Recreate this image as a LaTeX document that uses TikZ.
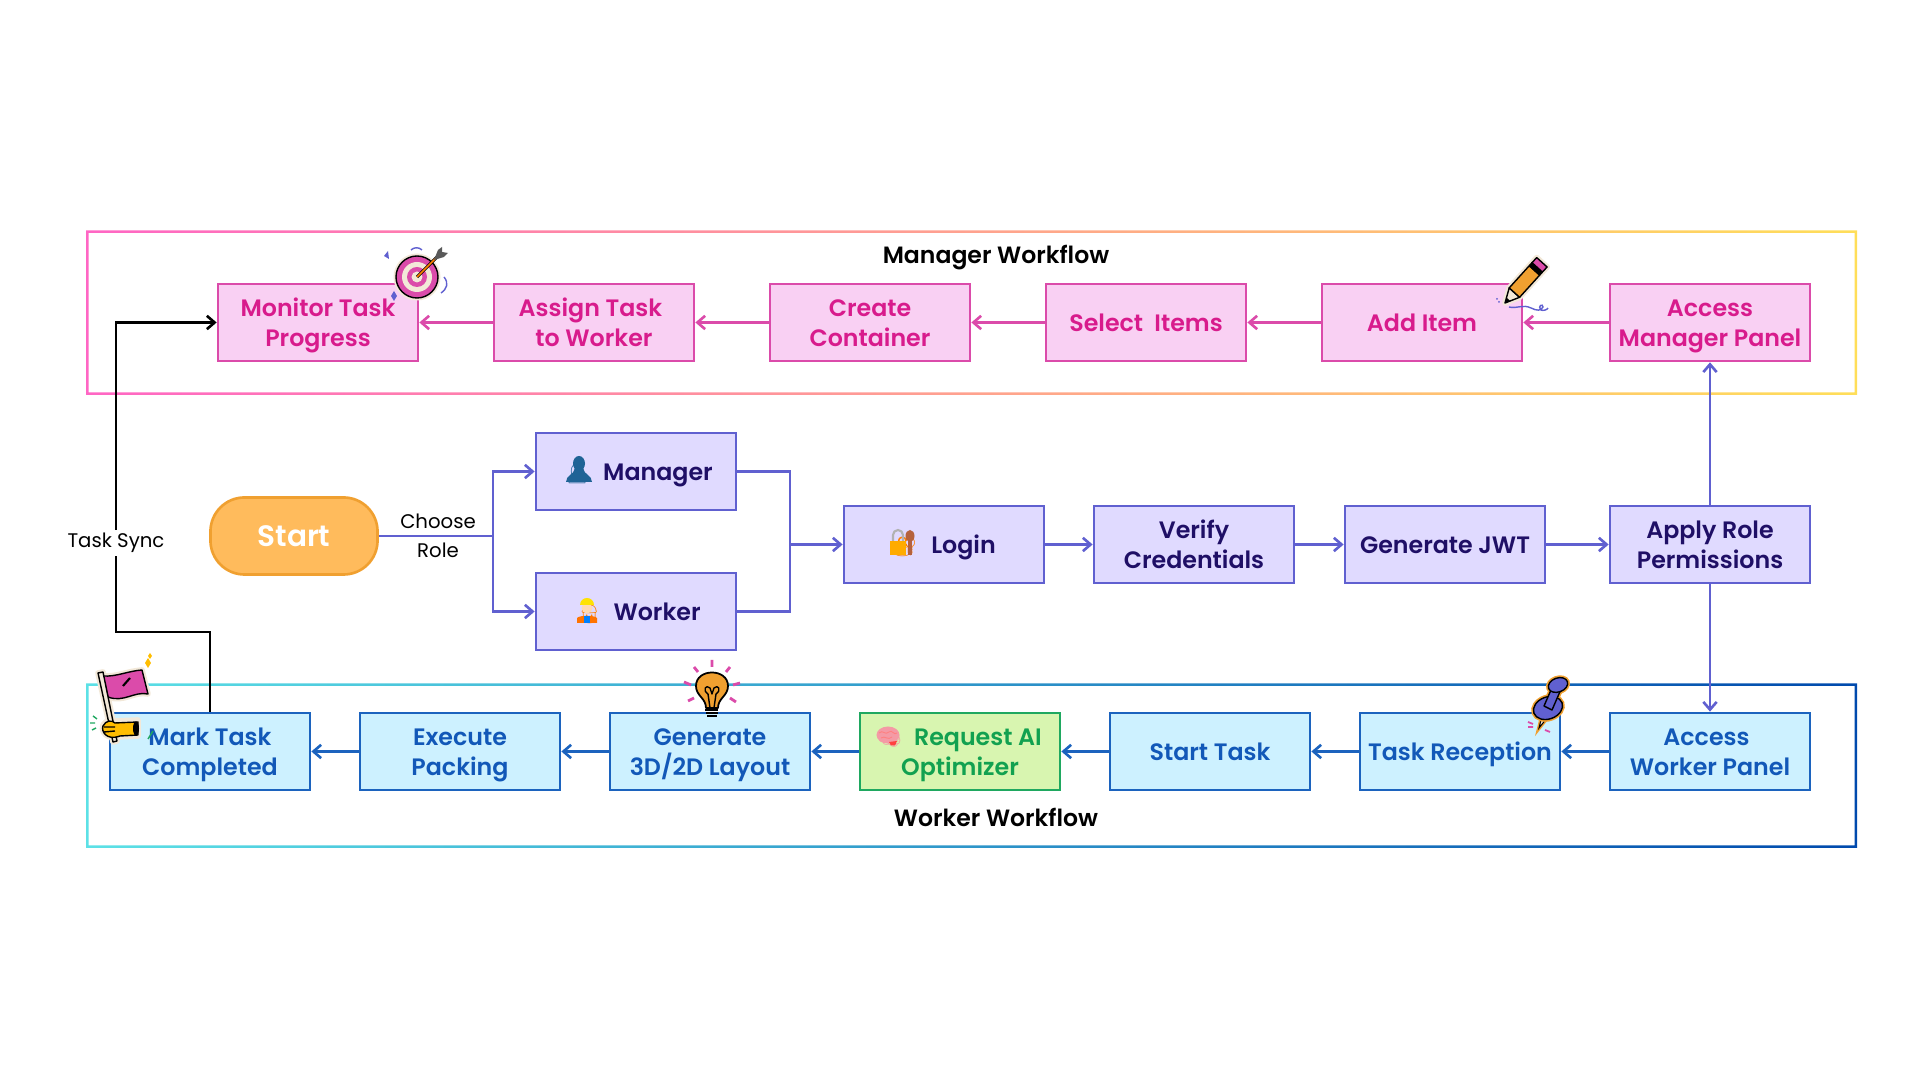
\documentclass[tikz,border=0pt]{standalone}
\usepackage{fontspec}
\setmainfont{Poppins}[UprightFont=* SemiBold,BoldFont=* SemiBold]
\newfontfamily\plainfont{Poppins}
\newfontfamily\emojifont{Noto Emoji}
\usepackage{xcolor}
\usetikzlibrary{arrows.meta,positioning}
\definecolor{mgrfill}{HTML}{F9D0F3}
\definecolor{mgrline}{HTML}{DB4BAA}
\definecolor{mgrtext}{HTML}{D81B8C}
\definecolor{rolefill}{HTML}{E0DAFF}
\definecolor{roleline}{HTML}{6060D0}
\definecolor{roletext}{HTML}{1F0F66}
\definecolor{wrkfill}{HTML}{CDF1FF}
\definecolor{wrkline}{HTML}{1C63BE}
\definecolor{wrktext}{HTML}{1258B8}
\definecolor{aifill}{HTML}{D8F5B0}
\definecolor{ailine}{HTML}{1FA860}
\definecolor{aitext}{HTML}{12A150}
\definecolor{startfill}{HTML}{FFBB5C}
\definecolor{startline}{HTML}{F0A030}
\definecolor{cream}{HTML}{F2E8D8}
\definecolor{handyellow}{HTML}{FFBD00}
\definecolor{framepink}{HTML}{FF66C4}
\definecolor{frameyellow}{HTML}{FFDE59}
\definecolor{framecyan}{HTML}{5CE1E6}
\definecolor{frameblue}{HTML}{004AAD}
\definecolor{bustblue}{HTML}{1F6396}
\definecolor{keybrown}{HTML}{B5613C}
\definecolor{brainpink}{HTML}{F49AA5}
\newcommand{\tsp}{\kern2pt}
\newcommand{\emo}[4]{\kern#1pt\makebox[#2pt]{\smash{\emojifont\fontsize{5.5}{6}\selectfont\textcolor{#3}{\symbol{#4}}}}\kern3.7pt}
\tikzset{
  >={Straight Barb[length=2.2pt,width=3.8pt]},
  boxbase/.style={rectangle,line width=0.75pt,minimum width=2cm,minimum height=0.77cm,inner sep=0pt,align=center,
    font=\fontsize{6.75}{8.55}\selectfont,execute at begin node={\rule{0pt}{7pt}},execute at end node={\rule[-1.9pt]{0pt}{1.9pt}}},
  twoline/.style={execute at begin node={\rule{0pt}{15.5pt}}},
  mgrbox/.style={boxbase,draw=mgrline,fill=mgrfill,text=mgrtext},
  rolebox/.style={boxbase,draw=roleline,fill=rolefill,text=roletext},
  wrkbox/.style={boxbase,draw=wrkline,fill=wrkfill,text=wrktext},
  aibox/.style={boxbase,draw=ailine,fill=aifill,text=aitext},
  mgrarrow/.style={->,line width=0.75pt,draw=mgrline},
  rolearrow/.style={line width=0.75pt,draw=roleline},
  wrkarrow/.style={->,line width=0.75pt,draw=wrkline},
  syncline/.style={line width=0.75pt,draw=black},
  titletext/.style={font=\fontsize{6.7}{8}\selectfont\bfseries,text=black,inner sep=0pt},
  plaintext/.style={font=\fontsize{5.6}{8.2}\selectfont\plainfont,text=black,align=center,inner sep=1pt},
  sticker/.style={line width=0.4pt,draw=black,line join=round},
  halo/.style={line width=1.6pt,draw=cream,fill=cream,line join=round},
}
\begin{document}
\begin{tikzpicture}[x=0.01cm,y=-0.01cm]
\useasboundingbox (0,0) rectangle (1920,1080);
% workflow frames
\shade[even odd rule,left color=framepink,right color=frameyellow]
  (86,230.5) rectangle (1857,395) (88.5,233) rectangle (1854.5,392.5);
\shade[even odd rule,left color=framecyan,right color=frameblue]
  (86,683.5) rectangle (1857,848) (88.5,686) rectangle (1854.5,845.5);
\node[titletext] (mgrtitle) at (996,258) {Manager Workflow};
\node[titletext] (wrktitle) at (996,817.5) {Worker Workflow};

% manager row
\node[mgrbox,twoline] (monitor) at (318,322.5) {Monitor Task\\Progress};
\node[mgrbox,twoline] (assign) at (594,322.5) {Assign Task\tsp\\to Worker};
\node[mgrbox,twoline] (container) at (870,322.5) {Create\\Container};
\node[mgrbox] (select) at (1146,322.5) {Select\ \ Items};
\node[mgrbox] (additem) at (1422,322.5) {Add Item};
\node[mgrbox,twoline] (mgrpanel) at (1710,322.5) {Access\\Manager Panel};

% middle row
\node[rectangle,rounded corners=0.34cm,draw=startline,fill=startfill,line width=0.75pt,minimum width=1.67cm,minimum height=0.77cm,
  text=white,font=\fontsize{8.4}{9}\selectfont\bfseries] (start) at (294,536) {Start};
\node[rolebox] (manager) at (636,471.5) {\emo{1.4}{7.4}{bustblue}{"1F464}Manager};
\node[rolebox] (worker) at (636,611.5) {\emo{2}{6.3}{orange}{"1F477}Worker};
\node[rolebox] (login) at (944,544.5) {\emo{0}{7.4}{orange}{"1F510}Login};
\node[rolebox,twoline] (verify) at (1194,544.5) {Verify\\Credentials};
\node[rolebox] (jwt) at (1445,544.5) {Generate JWT};
\node[rolebox,twoline] (apply) at (1710,544.5) {Apply Role\\Permissions};
\coordinate (branch) at (493,536);
\coordinate (merge) at (790,544.5);

% worker row
\node[wrkbox,twoline] (wrkpanel) at (1710,751.5) {Access\tsp\\Worker Panel};
\node[wrkbox] (reception) at (1460,751.5) {Task Reception};
\node[wrkbox] (starttask) at (1210,751.5) {Start Task};
\node[aibox,twoline] (optimizer) at (960,751.5) {\emo{0}{6.5}{brainpink}{"1F9E0}Request AI\\Optimizer};
\node[wrkbox,twoline] (layout) at (710,751.5) {Generate\\3D/2D Layout};
\node[wrkbox,twoline] (packing) at (460,751.5) {Execute\\Packing};
\node[wrkbox,twoline] (completed) at (210,751.5) {Mark Task\\Completed};

% manager arrows
\draw[mgrarrow] (mgrpanel) -- (additem);
\draw[mgrarrow] (additem) -- (select);
\draw[mgrarrow] (select) -- (container);
\draw[mgrarrow] (container) -- (assign);
\draw[mgrarrow] (assign) -- (monitor);

% role arrows
\draw[rolearrow] (start) -- (branch);
\draw[rolearrow,->] (branch) |- (manager);
\draw[rolearrow,->] (branch) |- (worker);
\draw[rolearrow] (manager) -| (merge);
\draw[rolearrow] (worker) -| (merge);
\draw[rolearrow,->] (merge) -- (login);
\draw[rolearrow,->] (login) -- (verify);
\draw[rolearrow,->] (verify) -- (jwt);
\draw[rolearrow,->] (jwt) -- (apply);
\draw[rolearrow,->] (apply) -- (mgrpanel);
\draw[rolearrow,->] (apply) -- (wrkpanel);
\node[plaintext] (choose) at (438,536) {Choose\\Role};

% worker arrows
\draw[wrkarrow] (wrkpanel) -- (reception);
\draw[wrkarrow] (reception) -- (starttask);
\draw[wrkarrow] (starttask) -- (optimizer);
\draw[wrkarrow] (optimizer) -- (layout);
\draw[wrkarrow] (layout) -- (packing);
\draw[wrkarrow] (packing) -- (completed);

% sync line
\coordinate (syncturn) at (116,632);
\draw[syncline,->] (completed) |- (syncturn) |- (monitor);
\node[plaintext,fill=white] (tasksync) at (116,543) {Task Sync};

% colour over the emoji
\fill[bustblue] (579,463.5) ellipse (6 and 7.5);
\fill[bustblue] (566,482) .. controls (566,475) and (574,475) .. (575,468) -- (583,468) .. controls (584,475) and (592,475) .. (592,482) -- cycle;
\fill[orange!90!red] (577,623) -- (577,618) .. controls (580,615) and (594,615) .. (597,618) -- (597,623) -- cycle;
\fill[blue!50!cyan] (584,616) rectangle (590,623);
\fill[orange!30!white] (587,608) circle (5.5);
\fill[yellow!85!orange] (580,605) arc (180:360:7 and 7) -- cycle;
\draw[gray!60,line width=0.6pt] (893,541) -- (893,535) arc (180:360:5 and 5) -- (903,541);
\fill[handyellow!70!orange] (890,541) rectangle (906,555);
\fill[keybrown] (910,536) ellipse (4.5 and 6);
\fill[keybrown] (908,538) rectangle (911.5,555);
\fill[brainpink] (888,735) ellipse (11.5 and 8.5);
\fill[red!75!white] (889,742) -- (897,741) -- (895,745.5) -- (891,745.5) -- cycle;
\draw[red!50!white,line width=0.25pt] (879,733) .. controls (883,729) and (885,736) .. (889,732) .. controls (892,729) and (894,736) .. (897,733) (881,738) .. controls (885,735) and (888,741) .. (892,737);

% target sticker
\begin{scope}[shift={(417,277)}]
\fill[cream] (0,0) circle (23.5);
\draw[sticker,fill=mgrline] (0,0) circle (21);
\fill[cream] (0,0) circle (15);
\fill[mgrline] (0,0) circle (10);
\fill[cream] (0,0) circle (5.5);
\draw[sticker,draw=black,line width=0.9pt] (0,0) -- (20,-20);
\draw[draw=orange,line width=0.45pt] (0,0) -- (20,-20);
\fill[gray!70!black] (17,-17) -- (21,-27) -- (25,-30) -- (25,-25) -- (31,-24) -- (27,-20) -- cycle;
\fill[roleline] (-33,-21) -- (-29,-26) -- (-28,-18) -- cycle (-23,14) -- (-20,19) -- (-23,24) -- (-26,19) -- cycle;
\draw[roleline,line width=0.4pt] (27,0) .. controls (32,6) and (30,12) .. (24,16);
\draw[roleline,line width=0.4pt] (-6,-27) .. controls (-3,-30) and (2,-30) .. (5,-27);
\end{scope}

% pencil sticker
\begin{scope}[shift={(1505,303)}]
\path[halo] (0,0) -- (4.2,-15.1) -- (31.7,-45.4) -- (42.1,-36) -- (14.6,-5.7) -- cycle;
\draw[sticker,fill=cream] (0,0) -- (4.2,-15.1) -- (14.6,-5.7) -- cycle;
\fill[black] (0,0) -- (1.5,-5.4) -- (5.2,-2) -- cycle;
\draw[sticker,fill=startline] (4.2,-15.1) -- (24.3,-37.3) -- (34.7,-27.9) -- (14.6,-5.7) -- cycle;
\draw[sticker,fill=black] (24.3,-37.3) -- (27,-40.3) -- (37.4,-30.9) -- (34.7,-27.9) -- cycle;
\draw[sticker,fill=mgrline] (27,-40.3) -- (31.7,-45.4) -- (42.1,-36) -- (37.4,-30.9) -- cycle;
\draw[roleline,line width=0.4pt] (4,4) .. controls (12,6) and (18,1) .. (26,5) .. controls (32,8) and (36,8) .. (38,4) .. controls (38,0) and (32,3) .. (36,7) .. controls (38,8) and (42,7) .. (43,5);
\fill[roleline] (-8,-4) circle (1) (-6,-1) circle (1);
\end{scope}

% flag sticker
\begin{scope}[shift={(98,673)}]
\path[halo] (5,3) .. controls (18,4) and (30,-2) .. (44,-3) -- (50,21) .. controls (36,18) and (26,30) .. (10,24) -- cycle;
\path[halo] (0,0) -- (5,-1) -- (19,68) -- (15,69) -- cycle;
\path[halo] (17,48) -- (40,47) -- (40,63) -- (18,64) .. controls (6,66) and (3,56) .. (5,52) .. controls (8,47) and (14,46) .. (17,48) -- cycle;
\draw[sticker,fill=mgrline] (5,3) .. controls (18,4) and (30,-2) .. (44,-3) -- (50,21) .. controls (36,18) and (26,30) .. (10,24) -- cycle;
\draw[sticker,line width=0.6pt] (32,5) -- (25,13);
\draw[sticker,fill=cream] (0,0) -- (5,-1) -- (19,68) -- (15,69) -- cycle;
\draw[sticker,fill=handyellow] (17,50) -- (40,49) -- (40,62) -- (22,63) .. controls (8,68) and (3,58) .. (5,53) .. controls (8,47) and (14,47) .. (17,50) -- cycle;
\draw[sticker] (6,54) -- (17,54) (6,59) -- (17,58);
\fill[black] (38,55.5) ellipse (3 and 7);
\fill[handyellow] (47,-10) -- (50,-15) -- (53,-10) -- (50,-5) -- cycle (50,-17) -- (52,-20) -- (54,-17) -- (52,-14) -- cycle;
\draw[ailine,line width=0.4pt] (-5,43) -- (-1,46) (-8,50) -- (-3,50) (-6,57) -- (-2,55) (50,66) -- (55,58);
\end{scope}

% bulb sticker
\begin{scope}[shift={(712,692)}]
\draw[sticker,fill=startline,line width=0.5pt] (-6,16) .. controls (-6,6) and (-16,4) .. (-16,-6) .. controls (-16,-24) and (16,-24) .. (16,-6) .. controls (16,4) and (6,6) .. (6,16) -- cycle;
\draw[sticker] (-2,16) -- (-4,2) .. controls (-10,-2) and (-6,-8) .. (-2,-4) -- (0,2) -- (2,-4) .. controls (6,-8) and (10,-2) .. (4,2) -- (2,16);
\draw[sticker,line width=0.7pt] (-7,18) -- (6,18) (-6,21) -- (6,21) (-5,24) -- (5,24);
\draw[mgrline,line width=0.8pt]
  (0,-32) -- (0,-25) (-18,-25) -- (-14,-20) (18,-25) -- (14,-20)
  (-28,-10) -- (-21,-7) (28,-9) -- (21,-7) (-24,9) -- (-18,6) (24,10) -- (18,6);
\end{scope}

% pin sticker
\begin{scope}[shift={(1539,728)}]
\draw[line width=1.1pt,draw=startline,fill=startline] (0,0) -- (3,-12) -- (8,-10) -- cycle;
\draw[line width=0.3pt,draw=black,fill=cream] (0,0) -- (3,-12) -- (8,-10) -- cycle;
\draw[line width=1.3pt,draw=startline,rotate around={20:(9,-20)}] (9,-20) ellipse (15 and 11);
\draw[line width=1.3pt,draw=startline] (13,-18) -- (5,-22) -- (15,-45) -- (23,-41) -- cycle;
\draw[line width=1.3pt,draw=startline,rotate around={20:(19,-43)}] (19,-43) ellipse (10 and 7);
\draw[sticker,fill=roleline,rotate around={20:(9,-20)}] (9,-20) ellipse (15 and 11);
\draw[sticker,fill=roleline] (13,-18) -- (5,-22) -- (15,-45) -- (23,-41) -- cycle;
\draw[sticker,fill=roleline,rotate around={20:(19,-43)}] (19,-43) ellipse (10 and 7);
\draw[mgrline,line width=0.5pt] (-11,-6) -- (-6,-4) (-11,-1) -- (-6,-1) (6,2) -- (11,4);
\end{scope}
\end{tikzpicture}
\end{document}
